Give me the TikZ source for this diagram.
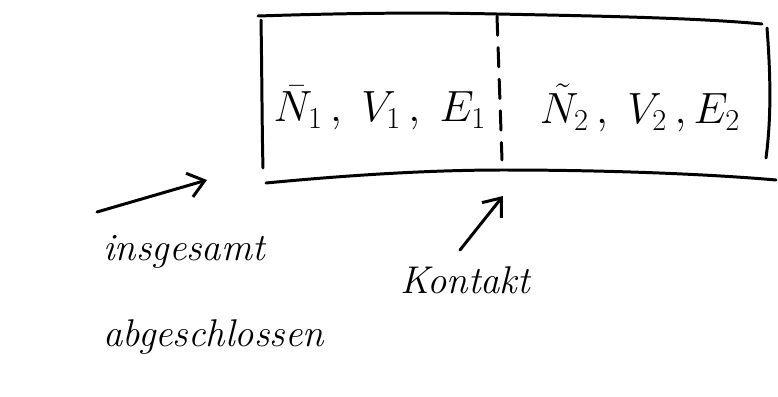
\documentclass[tikz,border=0pt]{standalone}
\usetikzlibrary{arrows.meta}
\begin{document}
\begin{tikzpicture}[x=0.02cm,y=-0.02cm,
  pen/.style={line width=1.7pt, line cap=round, line join=round},
  lbl/.style={font=\fontsize{27}{30}\selectfont, inner sep=0pt},
  word/.style={font=\fontsize{22}{26}\selectfont\itshape, inner sep=0pt, anchor=west},
  hook/.style={pen, -{Straight Barb[length=9pt, width=14pt, line width=1.7pt]}}]
\useasboundingbox (0,0) rectangle (778,396);
% box
\draw[pen] (258,16) .. controls (380,12) and (450,13) .. (497,14) .. controls (600,16) and (700,18) .. (762,24);
\draw[pen] (261,20) .. controls (262,80) and (262,130) .. (263,168);
\draw[pen] (767,28) .. controls (771,80) and (771,120) .. (766,158);
\draw[pen] (266,183) .. controls (350,175) and (430,170) .. (503,170) .. controls (620,170) and (720,175) .. (776,180);
\draw[pen, dash pattern=on 11pt off 7pt] (497,16) -- (502,160);
% labels
\node[lbl] (L) at (380,108) {$\bar N_1\,,\; V_1\,,\; E_1$};
\node[lbl] (R) at (640,108) {$\tilde N_2\,,\; V_2\,,E_2$};
% words
\node[word] (ins) at (103,252) {insgesamt};
\node[word] (abg) at (103,337) {abgeschlossen};
\node[word] (kon) at (400,280) {Kontakt};
% arrows
\coordinate (a1s) at (97,212);
\coordinate (a1e) at (207,180);
\coordinate (a2s) at (460,250);
\coordinate (a2e) at (503,196);
\draw[hook] (a1s) -- (a1e);
\draw[hook] (a2s) -- (a2e);
\end{tikzpicture}
\end{document}
